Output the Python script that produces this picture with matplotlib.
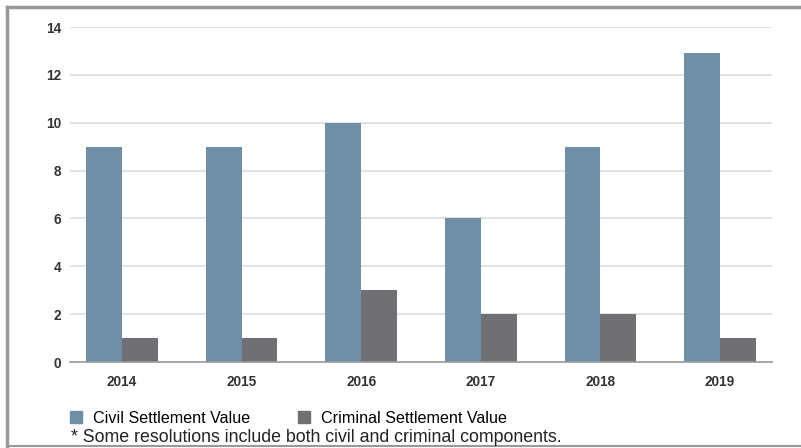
import numpy as np
import matplotlib
matplotlib.use('Agg')
import matplotlib.pyplot as plt
from matplotlib.lines import Line2D
from matplotlib.patches import Patch

# Data.
years = ['2014', '2015', '2016', '2017', '2018', '2019']
civil = [9, 9, 10, 6, 9, 12.9]
criminal = [1, 1, 3, 2, 2, 1]
yticks = [0, 2, 4, 6, 8, 10, 12, 14]

civil_color = '#6f8fa8'
criminal_color = '#707074'

plt.rcParams['font.family'] = ['Liberation Sans', 'DejaVu Sans']

fig = plt.figure(figsize=(8.01, 4.48), dpi=100)
ax = fig.add_axes([70/801, 1-362/448, 702/801, 335/448])

x = np.arange(len(years))
w = 0.30
ax.bar(x - w/2, civil, width=w, color=civil_color, zorder=3)
ax.bar(x + w/2, criminal, width=w, color=criminal_color, zorder=3)

ax.set_xlim(-0.434, len(years) - 1 + 0.434)
ax.set_ylim(0, 14)
ax.set_yticks(yticks)
ax.set_yticklabels([str(t) for t in yticks], fontsize=9.8, fontweight='bold', color='#333333')
ax.set_xticks(x)
ax.set_xticklabels(years, fontsize=9.8, fontweight='bold', color='#333333')
ax.tick_params(axis='both', length=0)
ax.tick_params(axis='y', pad=6.5)
ax.tick_params(axis='x', pad=9)

ax.grid(axis='y', color='#dddddd', linewidth=1.2, zorder=0)
for s in ['top', 'right', 'left']:
    ax.spines[s].set_visible(False)
ax.spines['bottom'].set_color('#999999')
ax.spines['bottom'].set_linewidth(1.2)
ax.spines['bottom'].set_zorder(4)

# Legend and footnote.
handles = [Patch(color=civil_color), Patch(color=criminal_color)]
fig.legend(handles, ['Civil Settlement Value', 'Criminal Settlement Value'],
           loc='center left', bbox_to_anchor=(70/801, 1-418/448), ncol=2,
           frameon=False, fontsize=11.6, handlelength=0.75, handleheight=0.75,
           handletextpad=0.65, columnspacing=3.0, borderaxespad=0, borderpad=0)
fig.text(71/801, 1-437/448, '* Some resolutions include both civil and criminal components.',
         fontsize=12.8, color='#222222', va='center', ha='left')

# Outer frame.
fig.add_artist(Line2D([7/801, 7/801], [1-7/448, 1-446/448], transform=fig.transFigure,
                      color='#999999', linewidth=2.5))
fig.add_artist(Line2D([7/801, 1], [1-7/448, 1-7/448], transform=fig.transFigure,
                      color='#999999', linewidth=2.5))
fig.add_artist(Line2D([7/801, 1], [1-446/448, 1-446/448], transform=fig.transFigure,
                      color='#999999', linewidth=1.5))

fig.savefig('out.png', dpi=100)
